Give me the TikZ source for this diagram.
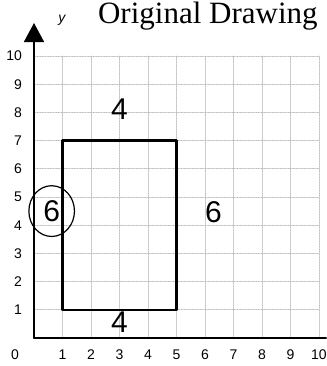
\documentclass[tikz,border=0pt]{standalone}
\usepackage{fontspec}
\setmainfont{Liberation Serif}
\setsansfont{Liberation Sans}
\usetikzlibrary{arrows.meta}

\tikzset{
  gridline/.style={gray!55, densely dotted, line width=0.6pt},
  axisline/.style={black, line width=1.6pt},
  ticklabel/.style={font=\sffamily\fontsize{14}{14}\selectfont},
  sidelabel/.style={font=\sffamily\fontsize{30}{30}\selectfont, inner sep=0pt},
}

\begin{document}
\begin{tikzpicture}[x=28.5pt, y=28.2pt, >=Triangle, line cap=round, line join=round]

  %% ---- page size ----
  \useasboundingbox (-1.193,-0.993) rectangle (10.246,11.986);

  %% ---- grid ----
  \foreach \i in {1,...,10} {
    \draw[gridline] (\i,0) -- (\i,10);
    \draw[gridline] (0,\i) -- (10,\i);
  }

  %% ---- axes ----
  \coordinate (O) at (0,0);
  \coordinate (ytip) at (0,11.17);
  \coordinate (xend) at (10.25,0);
  \draw[axisline] (O) -- (xend);
  \draw[axisline, -{Triangle[width=20pt, length=19pt]}] (O) -- (ytip);
  \node[font=\sffamily\itshape\fontsize{14}{14}\selectfont] (ylabel) at (0.98,11.25) {y};

  %% ---- tick labels ----
  \node[ticklabel] (t0) at (-0.67,-0.6) {0};
  \foreach \i in {1,...,10} {
    \node[ticklabel] (tx\i) at (\i,-0.6) {\i};
    \node[ticklabel, anchor=east, inner sep=0pt] (ty\i) at (-0.42,\i) {\i};
  }

  %% ---- rectangle ----
  \draw[black, line width=2.4pt] (1,1) rectangle (5,7);

  %% ---- side lengths ----
  \node[sidelabel] (top)    at (3.0,8.1)  {4};
  \node[sidelabel] (bottom) at (3.0,0.55) {4};
  \node[sidelabel] (right)  at (6.3,4.45) {6};
  \node[sidelabel] (left)   at (0.62,4.5) {6};
  \draw[line width=1.2pt] (left) ellipse (0.8 and 0.9);

  %% ---- title ----
  \node[font=\fontsize{31}{31}\selectfont] (title) at (6.1,11.4) {Original Drawing};

\end{tikzpicture}
\end{document}
